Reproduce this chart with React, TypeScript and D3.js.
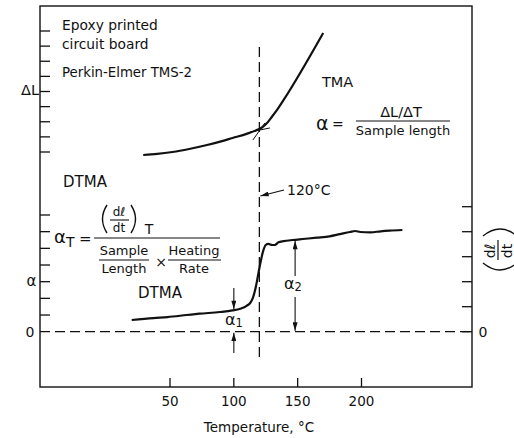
import React from "react";
import * as d3 from "d3";

// ---- data ----
const tempTicks = [50, 100, 150, 200];
const leftUpperTicks = [1, 2, 3, 4, 5, 6, 7, 8, 9];
const leftLowerTicks = [1, 2, 3, 4, 5, 6, 7];
const rightTicks = [0, 1, 2, 3, 4, 5];

const tmaTemp = [29, 40, 52, 65, 79, 90, 99, 110, 118, 122, 126, 130, 134, 139, 170];
const tmaDL = [0.8, 0.87, 1.0, 1.2, 1.46, 1.7, 1.93, 2.2, 2.45, 2.62, 2.92, 3.35, 3.8, 4.44, 8.87];

const dtmaTemp = [20, 37, 48, 63, 73, 89, 99, 105, 110, 113, 115, 117, 119, 121, 123, 125, 127, 130, 132, 135, 139, 146, 154, 165, 175, 183, 191, 195, 199, 207, 215, 222, 232];
const dtmaVal = [0.7, 0.82, 0.88, 1.0, 1.08, 1.18, 1.28, 1.38, 1.55, 1.75, 2.05, 2.6, 3.4, 4.2, 4.85, 5.2, 5.27, 5.2, 5.2, 5.36, 5.43, 5.5, 5.56, 5.64, 5.72, 5.85, 5.98, 6.04, 5.98, 5.96, 6.02, 6.06, 6.1];

// tangent construction lines at the transition
const tangentShallowT = [112.6, 128.3];
const tangentShallowV = [2.32, 2.59];
const tangentSteepT = [114.9, 124.3];
const tangentSteepV = [1.79, 2.92];

const transitionTemp = 120;
const alpha1Temp = 100;
const alpha1Val = 1.3;
const alpha2Temp = 148;
const alpha2Val = 5.5;

const FONT = "DejaVu Sans";

export default function App() {
  const W = 514, H = 438;
  const left = 40, right = 472, top = 6, bottom = 387;

  const x = d3.scaleLinear().domain([50, 200]).range([170, 361.5]);
  const yL = d3.scaleLinear().domain([1, 9]).range([152, 31]);
  const yD = d3.scaleLinear().domain([0, 7]).range([331.7, 215]);
  const yR = d3.scaleLinear().domain([0, 5]).range([331.7, 206.7]);

  const tmaLine = d3
    .line<number>()
    .x((_, i) => x(tmaTemp[i]))
    .y((d) => yL(d))
    .curve(d3.curveMonotoneX)(tmaDL) as string;

  const dtmaLine = d3
    .line<number>()
    .x((_, i) => x(dtmaTemp[i]))
    .y((d) => yD(d))
    .curve(d3.curveMonotoneX)(dtmaVal) as string;

  const xT = x(transitionTemp);
  const xa1 = x(alpha1Temp);
  const xa2 = x(alpha2Temp);
  const y0 = yD(0);

  const stroke = "#111";

  return (
    <svg width={W} height={H} style={{ display: "block", position: "absolute", left: 0, top: 0 }} fontFamily={FONT}>
      <defs>
        <marker id="arr" viewBox="0 0 10 6" refX="10" refY="3" markerWidth="9" markerHeight="5" markerUnits="userSpaceOnUse" orient="auto">
          <path d="M0,0 L10,3 L0,6 z" fill={stroke} />
        </marker>
      </defs>
      <rect width={W} height={H} fill="#fff" />

      {/* frame */}
      <rect x={left} y={top} width={right - left} height={bottom - top} fill="none" stroke={stroke} strokeWidth={1.4} />

      {/* left upper ticks */}
      {leftUpperTicks.map((t) => (
        <line key={"lu" + t} x1={left} x2={left + 10} y1={yL(t)} y2={yL(t)} stroke={stroke} strokeWidth={1.3} />
      ))}
      {/* left lower ticks */}
      {leftLowerTicks.map((t) => (
        <line key={"ll" + t} x1={left} x2={left + 10} y1={yD(t)} y2={yD(t)} stroke={stroke} strokeWidth={1.3} />
      ))}
      {/* right ticks */}
      {rightTicks.map((t) => (
        <line key={"r" + t} x1={right - 10} x2={right} y1={yR(t)} y2={yR(t)} stroke={stroke} strokeWidth={1.3} />
      ))}
      {/* bottom ticks */}
      {tempTicks.map((t) => (
        <g key={"b" + t}>
          <line x1={x(t)} x2={x(t)} y1={bottom} y2={bottom - 9} stroke={stroke} strokeWidth={1.3} />
          <text x={x(t)} y={406} fontSize={13.5} textAnchor="middle" fill={stroke}>{t}</text>
        </g>
      ))}
      <text x={259} y={432} fontSize={13.5} textAnchor="middle" fill={stroke}>Temperature, °C</text>

      {/* zero dashed line */}
      <line x1={left} x2={right} y1={y0} y2={y0} stroke={stroke} strokeWidth={1.3} strokeDasharray="10,5" />
      {/* transition dashed line */}
      <line x1={xT} x2={xT} y1={47} y2={362} stroke={stroke} strokeWidth={1.3} strokeDasharray="10,5" />

      {/* curves */}
      <path d={tmaLine} fill="none" stroke={stroke} strokeWidth={2.2} strokeLinejoin="round" />
      <path d={dtmaLine} fill="none" stroke={stroke} strokeWidth={2.2} strokeLinejoin="round" />
      <line x1={x(tangentShallowT[0])} y1={yL(tangentShallowV[0])} x2={x(tangentShallowT[1])} y2={yL(tangentShallowV[1])} stroke={stroke} strokeWidth={1} />
      <line x1={x(tangentSteepT[0])} y1={yL(tangentSteepV[0])} x2={x(tangentSteepT[1])} y2={yL(tangentSteepV[1])} stroke={stroke} strokeWidth={1} />

      {/* alpha1 arrows */}
      <line x1={xa1} x2={xa1} y1={288} y2={yD(alpha1Val) - 1} stroke={stroke} strokeWidth={1.1} markerEnd="url(#arr)" />
      <line x1={xa1} x2={xa1} y1={353} y2={y0 + 1} stroke={stroke} strokeWidth={1.1} markerEnd="url(#arr)" />
      <text x={225} y={325} fontSize={16} fill={stroke}>α<tspan fontSize={11.5} dy={2}>1</tspan></text>

      {/* alpha2 arrows */}
      <line x1={xa2} x2={xa2} y1={276} y2={yD(alpha2Val) + 1} stroke={stroke} strokeWidth={1.1} markerEnd="url(#arr)" />
      <line x1={xa2} x2={xa2} y1={297} y2={y0 - 1} stroke={stroke} strokeWidth={1.1} markerEnd="url(#arr)" />
      <text x={284} y={289} fontSize={16} fill={stroke}>α<tspan fontSize={11.5} dy={2}>2</tspan></text>

      {/* 120 C arrow */}
      <line x1={284} y1={190} x2={xT + 1} y2={196} stroke={stroke} strokeWidth={1.1} markerEnd="url(#arr)" />
      <text x={287} y={195} fontSize={14} fill={stroke}>120°C</text>

      {/* axis labels */}
      <text x={30} y={95} fontSize={14.5} textAnchor="middle" fill={stroke}>ΔL</text>
      <text x={31.5} y={286} fontSize={15} textAnchor="middle" fill={stroke}>α</text>
      <text x={30} y={337} fontSize={14} textAnchor="middle" fill={stroke}>0</text>
      <text x={483} y={337} fontSize={14} textAnchor="middle" fill={stroke}>0</text>

      {/* right rotated label (dl/dt) */}
      <text transform="translate(495,251) rotate(-90)" fontSize={14} textAnchor="middle" fill={stroke}>dℓ</text>
      <text transform="translate(512,251) rotate(-90)" fontSize={14} textAnchor="middle" fill={stroke}>dt</text>
      <line x1={498} x2={498} y1={240} y2={260} stroke={stroke} strokeWidth={1.2} />
      <path d="M483,236 Q500,222 517,236" fill="none" stroke={stroke} strokeWidth={1.3} />
      <path d="M483,263 Q500,277 517,263" fill="none" stroke={stroke} strokeWidth={1.3} />

      {/* top-left annotations */}
      <text x={62} y={30} fontSize={13.8} fill={stroke}>Epoxy printed</text>
      <text x={62} y={49} fontSize={13.8} fill={stroke}>circuit board</text>
      <text x={62} y={77} fontSize={13.3} fill={stroke}>Perkin-Elmer TMS-2</text>
      <text x={63} y={187} fontSize={15} fill={stroke}>DTMA</text>

      {/* TMA formula */}
      <text x={322} y={87} fontSize={14.5} fill={stroke}>TMA</text>
      <text x={316} y={130} fontSize={19} fill={stroke}>α</text>
      <text x={332} y={129} fontSize={14} fill={stroke}>=</text>
      <text x={401} y={117} fontSize={14.5} textAnchor="middle" fill={stroke}>ΔL/ΔT</text>
      <line x1={356} x2={450} y1={121} y2={121} stroke={stroke} strokeWidth={1.2} />
      <text x={403} y={135} fontSize={13} textAnchor="middle" fill={stroke}>Sample length</text>

      {/* DTMA formula */}
      <text x={54} y={243} fontSize={18} fill={stroke}>α<tspan fontSize={14} dy={4}>T</tspan></text>
      <text x={79} y={244} fontSize={15} fill={stroke}>=</text>
      <line x1={94} x2={220} y1={238} y2={238} stroke={stroke} strokeWidth={1.2} />
      <path d="M107,205 Q98,219 107,233" fill="none" stroke={stroke} strokeWidth={1.4} />
      <path d="M131,205 Q140,219 131,233" fill="none" stroke={stroke} strokeWidth={1.4} />
      <text x={119} y={216} fontSize={12} textAnchor="middle" fill={stroke}>dℓ</text>
      <line x1={110} x2={129} y1={220} y2={220} stroke={stroke} strokeWidth={1.1} />
      <text x={119} y={231.5} fontSize={12} textAnchor="middle" fill={stroke}>dt</text>
      <text x={149} y={234} fontSize={14} textAnchor="middle" fill={stroke}>T</text>
      <text x={124} y={255} fontSize={13} textAnchor="middle" fill={stroke}>Sample</text>
      <line x1={99} x2={149} y1={260} y2={260} stroke={stroke} strokeWidth={1.1} />
      <text x={124} y={273} fontSize={13} textAnchor="middle" fill={stroke}>Length</text>
      <text x={161} y={267} fontSize={14} textAnchor="middle" fill={stroke}>×</text>
      <text x={194} y={255} fontSize={13} textAnchor="middle" fill={stroke}>Heating</text>
      <line x1={168} x2={221} y1={260} y2={260} stroke={stroke} strokeWidth={1.1} />
      <text x={194} y={273} fontSize={13} textAnchor="middle" fill={stroke}>Rate</text>
      <text x={138} y={298} fontSize={15} fill={stroke}>DTMA</text>
    </svg>
  );
}
